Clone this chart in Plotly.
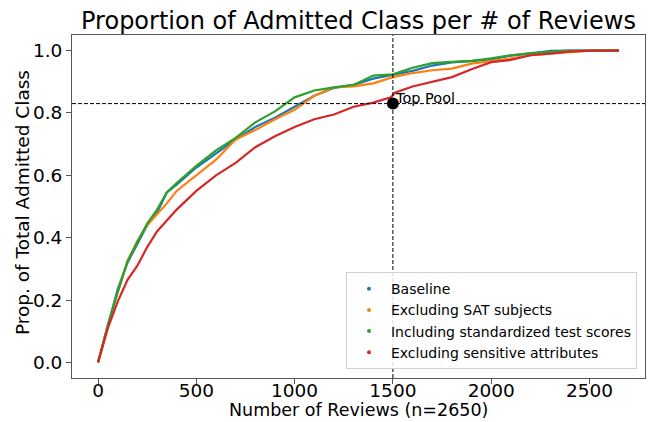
import plotly.graph_objects as go

# Data
x_base = [0, 50, 100, 150, 200, 250, 300, 350, 400, 500, 600, 700, 800, 900, 1000,
          1100, 1200, 1300, 1400, 1500, 1600, 1700, 1800, 1900, 2000, 2100, 2200,
          2300, 2400, 2650]
y_base = [0, 0.12, 0.235, 0.32, 0.38, 0.44, 0.48, 0.545, 0.57, 0.625, 0.67, 0.715,
          0.755, 0.785, 0.82, 0.855, 0.88, 0.89, 0.91, 0.922, 0.935, 0.952, 0.962,
          0.966, 0.972, 0.984, 0.99, 0.999, 1.0, 1.0]

x_sat = [0, 50, 100, 150, 200, 250, 300, 350, 400, 500, 600, 700, 800, 900, 1000,
         1100, 1200, 1300, 1400, 1500, 1600, 1700, 1800, 1900, 2000, 2100, 2200,
         2300, 2400, 2500, 2650]
y_sat = [0, 0.12, 0.225, 0.325, 0.39, 0.44, 0.475, 0.51, 0.55, 0.6, 0.65, 0.715,
         0.745, 0.78, 0.81, 0.855, 0.882, 0.885, 0.895, 0.915, 0.928, 0.937, 0.942,
         0.958, 0.966, 0.975, 0.985, 0.99, 0.997, 1.0, 1.0]

x_std = [0, 50, 100, 150, 200, 250, 300, 350, 400, 500, 600, 700, 800, 900, 1000,
         1100, 1200, 1300, 1400, 1500, 1600, 1700, 1800, 1900, 2000, 2100, 2200,
         2300, 2400, 2650]
y_std = [0, 0.12, 0.225, 0.325, 0.385, 0.445, 0.49, 0.545, 0.575, 0.63, 0.68, 0.72,
         0.77, 0.805, 0.85, 0.872, 0.882, 0.89, 0.92, 0.924, 0.945, 0.96, 0.964,
         0.967, 0.975, 0.985, 0.992, 0.997, 1.0, 1.0]

x_sens = [0, 50, 100, 150, 200, 250, 300, 350, 400, 500, 600, 700, 800, 900, 1000,
          1100, 1200, 1300, 1400, 1490, 1510, 1600, 1700, 1800, 1900, 2000, 2100,
          2200, 2300, 2400, 2500, 2650]
y_sens = [0, 0.11, 0.195, 0.265, 0.31, 0.37, 0.42, 0.455, 0.49, 0.55, 0.6, 0.64,
          0.69, 0.725, 0.755, 0.78, 0.795, 0.82, 0.833, 0.85, 0.865, 0.885, 0.9,
          0.915, 0.94, 0.963, 0.97, 0.985, 0.99, 0.997, 1.0, 1.0]

series_names = ["Baseline", "Excluding SAT subjects",
                "Including standardized test scores", "Excluding sensitive attributes"]
series_colors = ["#1f77b4", "#ff7f0e", "#2ca02c", "#d62728"]
series_x = [x_base, x_sat, x_std, x_sens]
series_y = [y_base, y_sat, y_std, y_sens]

top_pool_x = 1500
top_pool_y = 0.83
top_pool_label = "Top Pool"

x_ticks = [0, 500, 1000, 1500, 2000, 2500]
y_ticks = [0.0, 0.2, 0.4, 0.6, 0.8, 1.0]

FONT = "DejaVu Sans"

fig = go.Figure()

for name, color, xs, ys in zip(series_names, series_colors, series_x, series_y):
    fig.add_trace(go.Scatter(x=xs, y=ys, mode="lines", line=dict(color=color, width=2.2),
                             showlegend=False, hoverinfo="skip"))

for name, color in zip(series_names, series_colors):
    fig.add_trace(go.Scatter(x=[None], y=[None], mode="markers", name=name,
                             marker=dict(color=color, size=4)))

fig.add_trace(go.Scatter(x=[top_pool_x], y=[top_pool_y], mode="markers",
                         marker=dict(color="black", size=12), showlegend=False,
                         hoverinfo="skip"))

fig.add_shape(type="line", xref="x", yref="paper", x0=top_pool_x, x1=top_pool_x,
              y0=0, y1=1, line=dict(color="black", width=1, dash="4px,2px"))
fig.add_shape(type="line", xref="paper", yref="y", x0=0, x1=1,
              y0=top_pool_y, y1=top_pool_y, line=dict(color="black", width=1, dash="4px,2px"))

fig.add_annotation(x=top_pool_x, y=top_pool_y, text=top_pool_label, showarrow=False,
                   xanchor="left", yanchor="bottom", yshift=-4, xshift=0,
                   font=dict(family=FONT, size=14.5, color="black"))

# axis titles as positioned annotations
fig.add_annotation(x=0.5, y=0, xref="paper", yref="paper", text="Number of Reviews (n=2650)",
                   showarrow=False, xanchor="center", yanchor="middle", yshift=-32,
                   borderpad=0,
                   font=dict(family=FONT, size=17.5, color="black"))
fig.add_annotation(x=0, y=0.51, xref="paper", yref="paper", text="Prop. of Total Admitted Class",
                   showarrow=False, xanchor="center", yanchor="middle", xshift=-50,
                   textangle=-90, font=dict(family=FONT, size=18.5, color="black"))

fig.update_layout(
    width=649, height=422, autosize=False,
    margin=dict(l=72, r=4, t=35, b=44),
    paper_bgcolor="white", plot_bgcolor="white",
    font=dict(family=FONT, color="black"),
    title=dict(text="Proportion of Admitted Class per # of Reviews", x=0.5, xanchor="center",
               xref="paper", y=0.952, yanchor="middle",
               font=dict(family=FONT, size=24, color="black")),
    legend=dict(x=0.986, y=0.026, xanchor="right", yanchor="bottom",
                bgcolor="rgba(255,255,255,0.85)", bordercolor="#d0d0d0", borderwidth=1,
                font=dict(family=FONT, size=14, color="black"), itemwidth=34,
                tracegroupgap=0),
)

fig.update_xaxes(range=[-132.5, 2782.5], tickvals=x_ticks, ticktext=[str(v) for v in x_ticks],
                 showgrid=False, zeroline=False, showline=True, mirror=True, automargin=False,
                 linecolor="#555", linewidth=1, ticks="outside", ticklen=5, tickcolor="#555",
                 ticklabelstandoff=-9,
                 tickfont=dict(family=FONT, size=18.5, color="black"))
fig.update_yaxes(range=[-0.05, 1.05], tickvals=y_ticks, ticktext=[f"{v:.1f}" for v in y_ticks],
                 showgrid=False, zeroline=False, showline=True, mirror=True, automargin=False,
                 linecolor="#555", linewidth=1, ticks="outside", ticklen=5, tickcolor="#555",
                 tickfont=dict(family=FONT, size=18.5, color="black"))

fig.write_html("out.html", config={"displayModeBar": False},
               post_script="document.body.style.margin='0';document.body.style.overflow='hidden';")
